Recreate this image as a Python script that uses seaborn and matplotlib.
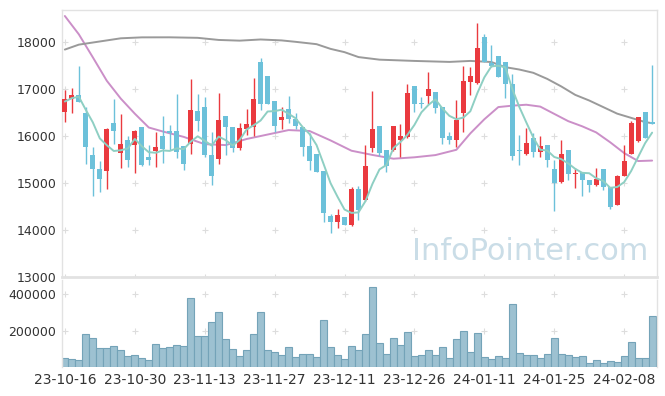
import numpy as np
import pandas as pd
import matplotlib
matplotlib.use("Agg")
import matplotlib.pyplot as plt
import seaborn as sns

# trading days (KRX calendar, 23-10-16 .. 24-02-16)
holidays = ["2023-12-25", "2023-12-29", "2024-01-01", "2024-02-09", "2024-02-12"]
dates = pd.bdate_range("2023-10-16", "2024-02-16", freq="C", holidays=holidays)

open_ = [16525, 16802, 16880, 16490, 15604, 15299, 15249, 16277, 15632, 15923,
         15802, 16199, 15561, 15674, 16014, 16106, 16114, 15781, 15830, 16539,
         16624, 15604, 15504, 16433, 16199, 15738, 16163, 16206, 17582, 17284,
         16745, 16334, 16582, 16362, 16206, 15788, 15618, 15256, 14291, 14170,
         14270, 14107, 14880, 14646, 15738, 16227, 15710, 15696, 15908, 15979,
         17071, 16710, 16866, 16944, 16625, 16007, 15908, 16504, 17164, 17128,
         18121, 17550, 17709, 17582, 17107, 15710, 15618, 15958, 15653, 15816,
         15299, 15015, 15710, 15192, 15228, 15072, 14958, 15299, 14916, 14526,
         15157, 15625, 15901, 16511, 16305]
high = [16986, 17022, 17497, 16632, 15760, 15462, 16170, 16795, 16469, 15994,
        16135, 16199, 15802, 16085, 16433, 16241, 16894, 15781, 17213, 16894,
        16837, 16085, 16915, 16433, 16199, 16291, 16582, 17235, 17667, 17284,
        16745, 16632, 16851, 16490, 16206, 16071, 15618, 15256, 14348, 14440,
        14270, 14915, 14930, 15802, 16965, 16227, 15710, 16220, 16256, 17107,
        17071, 16845, 17362, 16944, 16625, 16092, 16774, 17504, 17482, 18404,
        18170, 17943, 17709, 17582, 17326, 16029, 16170, 16064, 16007, 15816,
        15497, 15909, 15710, 15320, 15228, 15072, 15320, 15299, 14916, 15164,
        15816, 16313, 16419, 16511, 17511]
low = [16298, 16504, 16738, 15405, 14731, 14802, 14873, 15838, 15320, 15341,
       15213, 15355, 15377, 15341, 15433, 15695, 15525, 15277, 15618, 16114,
       15560, 14965, 15398, 15604, 15660, 15703, 16022, 16007, 16547, 16696,
       16092, 16149, 16291, 16149, 15582, 15277, 15235, 14170, 13929, 14043,
       14107, 14086, 14205, 14620, 15653, 15568, 15228, 15690, 15561, 15951,
       16525, 16596, 16681, 16490, 15830, 15830, 15774, 16079, 16880, 17114,
       17589, 17482, 17255, 16823, 15497, 15391, 15589, 15554, 15554, 15341,
       14398, 15001, 15072, 14895, 14717, 14802, 14944, 14845, 14455, 14526,
       15157, 15625, 15866, 15958, 16263]
close = [16795, 16880, 16738, 15760, 15299, 15086, 16156, 16120, 15838, 15483,
         16114, 15377, 15483, 15774, 15731, 16064, 15653, 15398, 16561, 16313,
         15589, 15143, 16348, 16185, 15738, 16178, 16263, 16795, 16696, 16696,
         16220, 16412, 16362, 16220, 15767, 15469, 15235, 14362, 14170, 14313,
         14107, 14873, 14419, 15370, 16156, 15639, 15355, 16220, 16007, 16922,
         16696, 16696, 17000, 16610, 15951, 15908, 16334, 17178, 17284, 17879,
         17589, 17500, 17255, 17107, 15568, 15690, 15852, 15653, 15795, 15483,
         15001, 15625, 15192, 15220, 15058, 14958, 15093, 14909, 14483, 15143,
         15476, 16277, 16405, 15958, 16263]
volume = [48, 42, 37, 180, 158, 103, 103, 114, 92, 59,
          64, 48, 37, 125, 103, 108, 119, 114, 383, 169,
          169, 246, 306, 152, 97, 59, 92, 180, 301, 92,
          81, 64, 108, 53, 70, 70, 53, 257, 108, 64,
          42, 114, 92, 180, 444, 130, 70, 158, 119, 191,
          59, 64, 92, 64, 108, 48, 152, 196, 81, 185,
          53, 42, 59, 48, 345, 75, 64, 64, 48, 70,
          158, 70, 64, 53, 59, 20, 37, 20, 31, 26,
          59, 136, 48, 48, 284]
volume = [v * 1000 for v in volume]

# 5-day MA: first four values (they use earlier closes)
ma5_head = [16738, 16810, 16840, 16560]
# 20 / 60 day MA at these bars
ma20_idx = [0, 2, 4, 6, 8, 10, 12, 14, 17, 20, 23, 26, 29, 32, 35, 38, 41, 44, 47,
            50, 53, 56, 58, 60, 62, 64, 66, 68, 70, 72, 74, 76, 78, 80, 82, 84]
ma20 = [18560, 18170, 17680, 17180, 16800, 16480, 16185, 16100, 15985, 15830,
        15810, 15940, 16035, 16130, 16110, 15910, 15690, 15600, 15520, 15550,
        15597, 15710, 16060, 16360, 16620, 16650, 16670, 16630, 16475, 16320,
        16210, 16080, 15870, 15640, 15470, 15480]
ma60_idx = [0, 2, 4, 6, 8, 11, 15, 19, 22, 25, 28, 31, 33, 36, 38, 40, 42, 45,
            50, 55, 58, 61, 63, 65, 67, 69, 71, 73, 75, 77, 79, 81, 83, 84]
ma60 = [17845, 17950, 17995, 18040, 18085, 18105, 18106, 18095, 18050, 18035,
        18060, 18040, 18010, 17960, 17860, 17790, 17685, 17630, 17603, 17582,
        17603, 17580, 17470, 17420, 17350, 17220, 17060, 16880, 16760, 16620,
        16480, 16390, 16300, 16277]

df = pd.DataFrame({"date": dates, "open": open_, "high": high, "low": low,
                   "close": close, "volume": volume})
df["idx"] = np.arange(len(df))
df["ma5"] = df["close"].rolling(5).mean()
df.loc[:3, "ma5"] = ma5_head

UP, DOWN = "#ea3a3f", "#6cc1da"
GRID = "#dddddd"

sns.set_style("white")
plt.rcParams["font.family"] = ["DejaVu Sans"]
plt.rcParams["text.color"] = "#333333"

fig = plt.figure(figsize=(6.65, 3.96), dpi=100)
ax = fig.add_axes([0.0928, 0.3005, 0.8952, 0.6745])
axv = fig.add_axes([0.0928, 0.0732, 0.8952, 0.2198], sharex=ax)

# candles
up = df["close"] >= df["open"]
colors = np.where(up, UP, DOWN)
ax.vlines(df["idx"], df["low"], df["high"], colors=colors, lw=1.0, zorder=3)
body_lo = np.minimum(df["open"], df["close"])
body_h = np.maximum(np.abs(df["close"] - df["open"]), 12)
ax.bar(df["idx"], body_h, bottom=body_lo, width=0.68, color=colors, lw=0, zorder=4)

# moving averages
sns.lineplot(x=df["idx"], y=df["ma5"], ax=ax, color="#8ecfc3", lw=1.4, zorder=5)
sns.lineplot(x=ma20_idx, y=ma20, ax=ax, color="#cb8fc8", lw=1.4, zorder=2)
sns.lineplot(x=ma60_idx, y=ma60, ax=ax, color="#9a9a9a", lw=1.4, zorder=2)

ax.text(0.985, 0.04, "InfoPointer.com", transform=ax.transAxes, ha="right",
        va="bottom", fontsize=22, color="#cadde7", zorder=1)

# volume
sns.barplot(x=df["idx"], y=df["volume"], ax=axv, native_scale=True, width=1.0,
            color="#9dc1d1", edgecolor="#74a3b8", linewidth=0.8, saturation=1)

xt = np.arange(0, len(df), 10)
for a, yt in ((ax, np.arange(13000, 18001, 1000)), (axv, [200000, 400000])):
    gx, gy = np.meshgrid(xt, yt)
    a.plot(gx.ravel(), gy.ravel(), "+", color=GRID, ms=5, mew=0.8, zorder=0)
    a.set_yticks(yt)
    a.tick_params(length=0, labelsize=9, colors="#333333", pad=4)
    a.set_xlabel("")
    a.set_ylabel("")
    for s in a.spines.values():
        s.set_color("#e2e2e2")
        s.set_linewidth(1)

ax.set_ylim(13000, 18690)
axv.set_ylim(0, 480000)
ax.set_xlim(-0.45, 84.7)
ax.spines["bottom"].set_linewidth(2)
axv.spines["top"].set_visible(False)
axv.spines["bottom"].set_visible(False)
ax.tick_params(labelbottom=False)
axv.set_xticks(xt)
axv.set_xticklabels([d.strftime("%y-%m-%d") for d in df["date"].iloc[xt]], fontsize=10)

fig.savefig("out.png", dpi=100, facecolor="white")
